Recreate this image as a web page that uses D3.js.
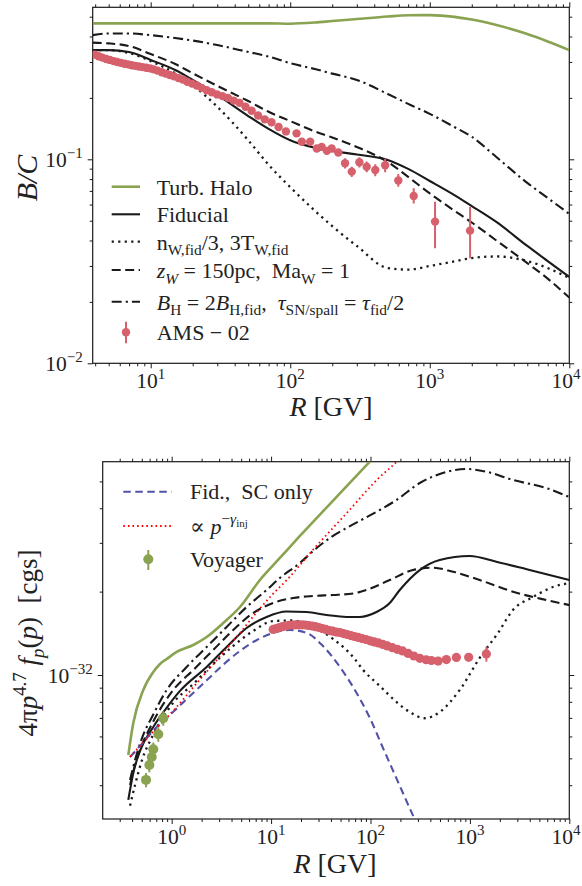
<!DOCTYPE html>
<html>
<head>
<meta charset="utf-8">
<script src="https://cdn.jsdelivr.net/npm/d3@7"></script>
<style>
  body { margin: 0; background: #fff; }
  text { font-family: "Liberation Serif", "DejaVu Serif", serif; fill: #222; }
</style>
</head>
<body>
<div id="chart"></div>
<script>
// ---------- top panel : B/C ----------
const bcR = [3.84, 5, 7, 10, 15, 20, 30, 50, 70, 100, 150, 200, 300, 500, 700, 1000, 1500, 2000, 3000, 5000, 7000, 10000];
const bcHalo    = [0.464, 0.464, 0.464, 0.464, 0.464, 0.464, 0.464, 0.464, 0.464, 0.462, 0.468, 0.476, 0.487, 0.501, 0.508, 0.509, 0.499, 0.484, 0.455, 0.411, 0.378, 0.343];
const bcFid     = [0.343, 0.343, 0.336, 0.307, 0.274, 0.245, 0.207, 0.163, 0.141, 0.124, 0.114, 0.110, 0.1055, 0.0992, 0.0897, 0.0783, 0.0668, 0.0590, 0.0493, 0.0376, 0.0317, 0.0265];
const bcNw      = [0.343, 0.343, 0.332, 0.303, 0.264, 0.231, 0.181, 0.124, 0.094, 0.073, 0.056, 0.047, 0.0376, 0.0293, 0.0288, 0.0300, 0.0316, 0.0328, 0.0334, 0.0317, 0.0293, 0.0262];
const bcZw      = [0.373, 0.370, 0.359, 0.328, 0.293, 0.264, 0.229, 0.193, 0.171, 0.154, 0.137, 0.128, 0.115, 0.097, 0.082, 0.068, 0.056, 0.049, 0.040, 0.031, 0.026, 0.021];
const bcBh      = [0.406, 0.414, 0.414, 0.406, 0.393, 0.382, 0.363, 0.336, 0.319, 0.296, 0.277, 0.263, 0.245, 0.209, 0.187, 0.167, 0.144, 0.129, 0.1026, 0.0766, 0.0646, 0.054];

// AMS-02 B/C
const amsR  = [3.97, 4.23, 4.51, 4.80, 5.10, 5.42, 5.76, 6.12, 6.49, 6.89, 7.31, 7.76, 8.24, 8.75, 9.30, 9.89, 10.5, 11.2, 12.0, 12.8, 13.7, 14.7, 15.8, 17.0, 18.3, 19.8, 21.4, 23.2, 25.2, 27.4, 29.9, 32.7, 35.8, 39.3, 43.3, 47.8, 52.9, 58.8, 65.6, 73.4, 82.5, 93.1,
               111, 121, 139, 155, 168, 183, 198, 221, 247, 276, 313, 353, 407, 479, 595, 767, 1091, 1945];
const amsBC = [0.326, 0.320, 0.315, 0.310, 0.307, 0.303, 0.300, 0.297, 0.294, 0.292, 0.289, 0.287, 0.285, 0.283, 0.281, 0.279, 0.276, 0.272, 0.267, 0.263, 0.259, 0.255, 0.250, 0.246, 0.240, 0.235, 0.230, 0.224, 0.218, 0.213, 0.208, 0.204, 0.200, 0.194, 0.189, 0.181, 0.173, 0.164, 0.157, 0.152, 0.144, 0.137,
               0.134, 0.122, 0.122, 0.113, 0.115, 0.110, 0.113, 0.108, 0.0956, 0.0870, 0.0967, 0.0920, 0.0886, 0.0935, 0.0787, 0.0661, 0.0495, 0.0447];
const amsLo = [0.004, 0.004, 0.004, 0.004, 0.004, 0.004, 0.004, 0.004, 0.004, 0.004, 0.004, 0.004, 0.004, 0.004, 0.004, 0.004, 0.004, 0.004, 0.004, 0.004, 0.004, 0.004, 0.004, 0.004, 0.004, 0.004, 0.004, 0.004, 0.004, 0.004, 0.004, 0.004, 0.004, 0.004, 0.004, 0.004, 0.004, 0.004, 0.004, 0.004, 0.004, 0.004,
               0.003, 0.003, 0.003, 0.003, 0.003, 0.003, 0.003, 0.004, 0.0055, 0.005, 0.0055, 0.0055, 0.006, 0.007, 0.0054, 0.0053, 0.0129, 0.012];
const amsHi = [0.004, 0.004, 0.004, 0.004, 0.004, 0.004, 0.004, 0.004, 0.004, 0.004, 0.004, 0.004, 0.004, 0.004, 0.004, 0.004, 0.004, 0.004, 0.004, 0.004, 0.004, 0.004, 0.004, 0.004, 0.004, 0.004, 0.004, 0.004, 0.004, 0.004, 0.004, 0.004, 0.004, 0.004, 0.004, 0.004, 0.004, 0.004, 0.004, 0.004, 0.004, 0.004,
               0.003, 0.003, 0.003, 0.003, 0.003, 0.003, 0.003, 0.004, 0.0055, 0.005, 0.0055, 0.0055, 0.006, 0.007, 0.006, 0.006, 0.0125, 0.0139];

// ---------- bottom panel : proton spectrum (units of 1e-32 cgs) ----------
const UNIT = 1e-32;
const haloR = [0.366, 0.411, 0.518, 0.653, 0.763, 0.891, 1.123, 1.649, 2.247, 3.30, 4.86, 7.72, 12.26, 19.48, 39.0, 98.4, 124];
const haloF = [0.514, 0.671, 0.883, 1.025, 1.096, 1.142, 1.211, 1.283, 1.371, 1.540, 1.760, 2.203, 2.645, 3.176, 4.143, 5.89, 6.44];
const fidR  = [0.366, 0.411, 0.480, 0.653, 0.856, 1.212, 2.247, 3.571, 5.673, 9.01, 14.31, 22.74, 36.13, 57.4, 78.1, 114.9, 156.3, 197, 313, 497, 995, 1846, 3990, 10000];
const fidF  = [0.354, 0.443, 0.532, 0.649, 0.747, 0.876, 1.069, 1.262, 1.478, 1.620, 1.695, 1.688, 1.647, 1.620, 1.620, 1.688, 1.819, 2.027, 2.393, 2.601, 2.689, 2.564, 2.393, 2.203];
const zwR   = [0.381, 0.428, 0.503, 0.649, 1.038, 1.649, 2.619, 4.160, 6.61, 10.50, 16.68, 26.5, 42.1, 66.9, 91.2, 156.3, 268, 426, 676, 1254, 2712, 5871, 10000];
const zwF   = [0.401, 0.473, 0.559, 0.677, 0.883, 1.042, 1.231, 1.454, 1.674, 1.819, 1.897, 1.929, 1.945, 1.969, 2.027, 2.203, 2.393, 2.440, 2.360, 2.203, 1.998, 1.865, 1.789];
const bhR   = [0.381, 0.428, 0.503, 0.649, 0.891, 1.415, 2.247, 3.571, 5.673, 9.01, 12.26, 19.48, 26.5, 39.0, 57.4, 84.3, 124, 182.5, 313, 580, 922, 1465, 2712, 5871, 10000];
const bhF   = [0.418, 0.493, 0.592, 0.717, 0.883, 1.069, 1.262, 1.491, 1.760, 2.027, 2.240, 2.537, 2.803, 3.124, 3.394, 3.658, 3.942, 4.283, 4.933, 5.406, 5.543, 5.419, 5.058, 4.732, 4.391];
const nwR   = [0.381, 0.428, 0.503, 0.649, 1.031, 1.649, 2.619, 4.160, 6.61, 10.50, 16.68, 26.5, 42.1, 66.9, 84.3, 124, 182.5, 248, 351, 497, 790, 1254, 1916, 2712, 4308, 6842, 10000];
const nwF   = [0.337, 0.401, 0.493, 0.607, 0.792, 0.928, 1.096, 1.273, 1.442, 1.566, 1.573, 1.491, 1.349, 1.161, 1.042, 0.913, 0.799, 0.735, 0.698, 0.735, 0.883, 1.152, 1.418, 1.717, 1.912, 2.078, 2.148];
const scR   = [0.381, 0.480, 0.649, 1.031, 1.527, 2.264, 3.28, 4.86, 7.20, 10.43, 15.45, 22.9, 33.2, 49.2, 69.6, 98.4, 139.2, 197, 272, 313];
const scF   = [0.506, 0.554, 0.628, 0.735, 0.840, 0.959, 1.087, 1.221, 1.338, 1.418, 1.454, 1.418, 1.273, 1.069, 0.883, 0.700, 0.527, 0.398, 0.307, 0.276];
const injR  = [0.381, 0.605, 1.031, 1.796, 3.28, 4.86, 7.20, 10.43, 14.41, 26.3, 57.8, 124, 183.7, 248];
const injF  = [0.506, 0.607, 0.741, 0.936, 1.201, 1.418, 1.688, 1.961, 2.203, 2.827, 3.846, 5.186, 5.89, 6.66];

// AMS-02 protons
const pR   = [10.5, 11.3, 12.1, 13.0, 14.0, 15.1, 16.3, 17.6, 19.0, 20.5, 22.1, 23.9, 25.9, 28.0, 30.3, 32.8, 35.5, 38.5, 41.8, 45.4, 49.3, 53.6, 58.3, 63.4, 69.0, 75.3, 82.3, 90.1, 98.9, 109, 120, 133, 148, 166, 186, 210, 239, 273, 314, 363, 410, 479, 580, 731, 972, 1465];
const pF   = [1.460, 1.472, 1.484, 1.494, 1.503, 1.512, 1.515, 1.518, 1.518, 1.518, 1.515, 1.509, 1.503, 1.494, 1.484, 1.472, 1.460, 1.447, 1.439, 1.429, 1.423, 1.411, 1.400, 1.388, 1.377, 1.366, 1.354, 1.343, 1.329, 1.316, 1.305, 1.289, 1.273, 1.255, 1.238, 1.221, 1.196, 1.171, 1.149, 1.135, 1.128, 1.123, 1.137, 1.157, 1.159, 1.191];
const pErr = [0.01, 0.01, 0.01, 0.01, 0.01, 0.01, 0.01, 0.01, 0.01, 0.01, 0.01, 0.01, 0.01, 0.01, 0.01, 0.01, 0.01, 0.01, 0.01, 0.01, 0.01, 0.01, 0.01, 0.01, 0.01, 0.01, 0.01, 0.01, 0.01, 0.01, 0.01, 0.01, 0.01, 0.01, 0.01, 0.01, 0.01, 0.012, 0.013, 0.014, 0.015, 0.017, 0.02, 0.025, 0.039, 0.074];

// Voyager
const vR   = [0.552, 0.596, 0.630, 0.653, 0.733, 0.823];
const vF   = [0.418, 0.473, 0.506, 0.539, 0.611, 0.698];
const vErr = [0.025, 0.028, 0.030, 0.032, 0.037, 0.042];

// ---------- layout ----------
const W = 582, H = 886;
const boxA = {left: 92.7, right: 569.3, top: 7.3, bottom: 363.3};
const boxB = {left: 102.7, right: 569.3, top: 461.7, bottom: 819};

const GREEN = '#8aa350', RED = '#d6606c', BLUE = '#5252a8', INK = '#1a1a1a';

const svg = d3.select('#chart').append('svg').attr('width', W).attr('height', H);

const xA = d3.scaleLog().domain([3.84, 1e4]).range([boxA.left, boxA.right]);
const yA = d3.scaleLog().domain([0.01, 0.556]).range([boxA.bottom, boxA.top]);
const xB = d3.scaleLog().domain([0.2023, 1e4]).range([boxB.left, boxB.right]);
const yB = d3.scaleLog().domain([0.302 * UNIT, 5.89 * UNIT]).range([boxB.bottom, boxB.top]);

// rich text with italics / sub / superscripts
function rich(g, x, y, parts, size, anchor) {
    const t = g.append('text')
        .attr('x', x).attr('y', y)
        .attr('font-size', size)
        .attr('text-anchor', anchor || 'start')
        .style('white-space', 'pre');
    let shift = 0;
    parts.forEach(p => {
        const [str, o] = typeof p === 'string' ? [p, {}] : p;
        let target = 0, fs = 1;
        if (o.sub) { target = 0.25; fs = 0.7; }
        if (o.sup) { target = -0.42; fs = 0.7; }
        if (o.supsub) { target = -0.28; fs = 0.5; }
        const s = t.append('tspan').text(str).attr('font-size', size * fs);
        if (target !== shift) { s.attr('dy', (target - shift) * size); shift = target; }
        if (o.i) s.style('font-style', 'italic');
    });
    return t;
}

function logTicks(lo, hi) {
    const major = [], minor = [];
    for (let e = Math.floor(Math.log10(lo)); e <= Math.ceil(Math.log10(hi)); e++) {
        for (let m = 1; m < 10; m++) {
            const v = m * Math.pow(10, e);
            if (v < lo * 0.9999 || v > hi * 1.0001) continue;
            (m === 1 ? major : minor).push(v);
        }
    }
    return {major, minor};
}

function drawAxes(x, y, box) {
    const g = svg.append('g');
    const xt = logTicks(...x.domain()), yt = logTicks(...y.domain());
    const none = () => '';
    const put = (axis, tr, vals, size) => {
        g.append('g').attr('transform', tr)
            .call(axis.tickValues(vals).tickSize(size).tickFormat(none))
            .call(s => s.select('.domain').remove())
            .call(s => s.selectAll('line').attr('stroke', INK).attr('stroke-width', 1));
    };
    put(d3.axisBottom(x), `translate(0,${box.bottom})`, xt.major, 5);
    put(d3.axisBottom(x), `translate(0,${box.bottom})`, xt.minor, 3);
    put(d3.axisTop(x), `translate(0,${box.top})`, xt.major, 5);
    put(d3.axisTop(x), `translate(0,${box.top})`, xt.minor, 3);
    put(d3.axisLeft(y), `translate(${box.left},0)`, yt.major, 5);
    put(d3.axisLeft(y), `translate(${box.left},0)`, yt.minor, 3);
    put(d3.axisRight(y), `translate(${box.right},0)`, yt.major, 5);
    put(d3.axisRight(y), `translate(${box.right},0)`, yt.minor, 3);
    g.append('rect')
        .attr('x', box.left).attr('y', box.top)
        .attr('width', box.right - box.left).attr('height', box.bottom - box.top)
        .attr('fill', 'none').attr('stroke', INK).attr('stroke-width', 1.2);
    return {xt, yt};
}

function clipFor(id, box) {
    svg.append('clipPath').attr('id', id).append('rect')
        .attr('x', box.left).attr('y', box.top)
        .attr('width', box.right - box.left).attr('height', box.bottom - box.top);
    return svg.append('g').attr('clip-path', `url(#${id})`);
}

const styles = {
    halo:  {stroke: GREEN, width: 2.6, dash: null},
    fid:   {stroke: INK, width: 2.1, dash: null},
    nw:    {stroke: INK, width: 2.3, dash: '2.2,4.3'},
    zw:    {stroke: INK, width: 2.1, dash: '9,4.5'},
    bh:    {stroke: INK, width: 2.1, dash: '10,4,2.2,4'},
    sc:    {stroke: BLUE, width: 2.1, dash: '7.5,4.5'},
    inj:   {stroke: 'red', width: 1.8, dash: '1.6,3'}
};

function drawCurve(g, x, y, xs, ys, st, scale) {
    const pts = xs.map((r, i) => [r, ys[i] * (scale || 1)]);
    g.append('path')
        .datum(pts)
        .attr('d', d3.line().x(d => x(d[0])).y(d => y(d[1])).curve(d3.curveMonotoneX))
        .attr('fill', 'none')
        .attr('stroke', st.stroke)
        .attr('stroke-width', st.width)
        .attr('stroke-dasharray', st.dash);
}

function drawPoints(g, x, y, xs, ys, lo, hi, color, r, scale) {
    const k = scale || 1;
    const d = xs.map((v, i) => ({x: v, y: ys[i] * k, lo: (ys[i] - lo[i]) * k, hi: (ys[i] + hi[i]) * k}));
    g.selectAll(null).data(d).enter().append('line')
        .attr('x1', p => x(p.x)).attr('x2', p => x(p.x))
        .attr('y1', p => y(p.lo)).attr('y2', p => y(p.hi))
        .attr('stroke', color).attr('stroke-width', 2);
    g.selectAll(null).data(d).enter().append('circle')
        .attr('cx', p => x(p.x)).attr('cy', p => y(p.y))
        .attr('r', r).attr('fill', color);
}

// "10^n" tick label, kept inside the picture
function sup10(g, x, y, exp, anchor) {
    const t = rich(g, x, y, ['10', [exp, {sup: true}]], 21.5, anchor);
    const b = t.node().getBBox();
    if (b.x + b.width > W - 1) t.attr('x', x - (b.x + b.width - (W - 1)));
}

// ---------- top panel ----------
const ticksA = drawAxes(xA, yA, boxA);
const plotA = clipFor('clipA', boxA);
drawCurve(plotA, xA, yA, bcR, bcHalo, styles.halo);
drawCurve(plotA, xA, yA, bcR, bcBh, styles.bh);
drawCurve(plotA, xA, yA, bcR, bcZw, styles.zw);
drawCurve(plotA, xA, yA, bcR, bcNw, styles.nw);
drawCurve(plotA, xA, yA, bcR, bcFid, styles.fid);
drawPoints(plotA, xA, yA, amsR, amsBC, amsLo, amsHi, RED, 4.2);

const labA = svg.append('g');
ticksA.xt.major.forEach(v => sup10(labA, xA(v), boxA.bottom + 25, String(Math.round(Math.log10(v))), 'middle'));
ticksA.yt.major.forEach(v => sup10(labA, boxA.left - 10, yA(v) + 8, '\u2212' + String(-Math.round(Math.log10(v))), 'end'));
rich(labA, 331, 416, [['R', {i: true}], ' [GV]'], 28, 'middle');
rich(labA, 0, 0, [['B/C', {i: true}]], 30, 'middle').attr('transform', 'translate(37,178) rotate(-90)');

// legend top
const legA = svg.append('g');
const legAItems = [
    {st: styles.halo, y: 186.7, parts: ['Turb. Halo']},
    {st: styles.fid, y: 214.3, parts: ['Fiducial']},
    {st: styles.nw, y: 241.7, parts: ['n', ['W,fid', {sub: true}], '/3, 3T', ['W,fid', {sub: true}]]},
    {st: styles.zw, y: 270, parts: [['z', {i: true}], ['W', {sub: true, i: true}], ' = 150pc,  Ma', ['W', {sub: true}], ' = 1']},
    {st: styles.bh, y: 301.7, parts: [['B', {i: true}], ['H', {sub: true}], ' = 2', ['B', {i: true}], ['H,fid', {sub: true}], ',  ', ['\u03c4', {i: true}], ['SN/spall', {sub: true}], ' = ', ['\u03c4', {i: true}], ['fid', {sub: true}], '/2']},
];
legAItems.forEach(it => {
    legA.append('line').attr('x1', 111.7).attr('x2', 140).attr('y1', it.y).attr('y2', it.y)
        .attr('stroke', it.st.stroke).attr('stroke-width', it.st.width).attr('stroke-dasharray', it.st.dash);
    rich(legA, 156.7, it.y + 8, it.parts, 22);
});
legA.append('line').attr('x1', 126).attr('x2', 126).attr('y1', 321.7).attr('y2', 343.3).attr('stroke', RED).attr('stroke-width', 2);
legA.append('circle').attr('cx', 126).attr('cy', 332.3).attr('r', 4.2).attr('fill', RED);
rich(legA, 156.7, 340.3, ['AMS \u2212 02'], 22);

// ---------- bottom panel ----------
const ticksB = drawAxes(xB, yB, boxB);
const plotB = clipFor('clipB', boxB);
drawCurve(plotB, xB, yB, haloR, haloF, styles.halo, UNIT);
drawCurve(plotB, xB, yB, bhR, bhF, styles.bh, UNIT);
drawCurve(plotB, xB, yB, zwR, zwF, styles.zw, UNIT);
drawCurve(plotB, xB, yB, fidR, fidF, styles.fid, UNIT);
drawCurve(plotB, xB, yB, nwR, nwF, styles.nw, UNIT);
drawCurve(plotB, xB, yB, scR, scF, styles.sc, UNIT);
drawCurve(plotB, xB, yB, injR, injF, styles.inj, UNIT);
drawPoints(plotB, xB, yB, pR, pF, pErr, pErr, RED, 4.6, UNIT);
drawPoints(plotB, xB, yB, vR, vF, vErr, vErr, GREEN, 5, UNIT);

const labB = svg.append('g');
ticksB.xt.major.forEach(v => sup10(labB, xB(v), boxB.bottom + 25, String(Math.round(Math.log10(v))), 'middle'));
ticksB.yt.major.forEach(v => sup10(labB, boxB.left - 10, yB(v) + 8, '\u2212' + String(-Math.round(Math.log10(v))), 'end'));
rich(labB, 335, 873, [['R', {i: true}], ' [GV]'], 28, 'middle');
rich(labB, 0, 0, ['4\u03c0', ['p', {i: true}], ['4.7', {sup: true}], ' ', ['f', {i: true}], ['p', {sub: true, i: true}], '(', ['p', {i: true}], ')  [cgs]'], 27, 'middle')
    .attr('transform', 'translate(37,643) rotate(-90)');

// legend bottom
const legB = svg.append('g');
[{st: styles.sc, y: 491.7, parts: ['Fid.,  SC only']},
 {st: styles.inj, y: 526, parts: ['\u221d ', ['p', {i: true}], ['\u2212', {sup: true}], ['\u03b3', {sup: true, i: true}], ['inj', {supsub: true}]]}
].forEach(it => {
    legB.append('line').attr('x1', 123.3).attr('x2', 171.7).attr('y1', it.y).attr('y2', it.y)
        .attr('stroke', it.st.stroke).attr('stroke-width', it.st.width).attr('stroke-dasharray', it.st.dash);
    rich(legB, 190, it.y + 7.5, it.parts, 22);
});
legB.append('line').attr('x1', 148.3).attr('x2', 148.3).attr('y1', 550).attr('y2', 570).attr('stroke', GREEN).attr('stroke-width', 2);
legB.append('circle').attr('cx', 148.3).attr('cy', 559.3).attr('r', 5).attr('fill', GREEN);
rich(legB, 190, 566.8, ['Voyager'], 22);
</script>
</body>
</html>
